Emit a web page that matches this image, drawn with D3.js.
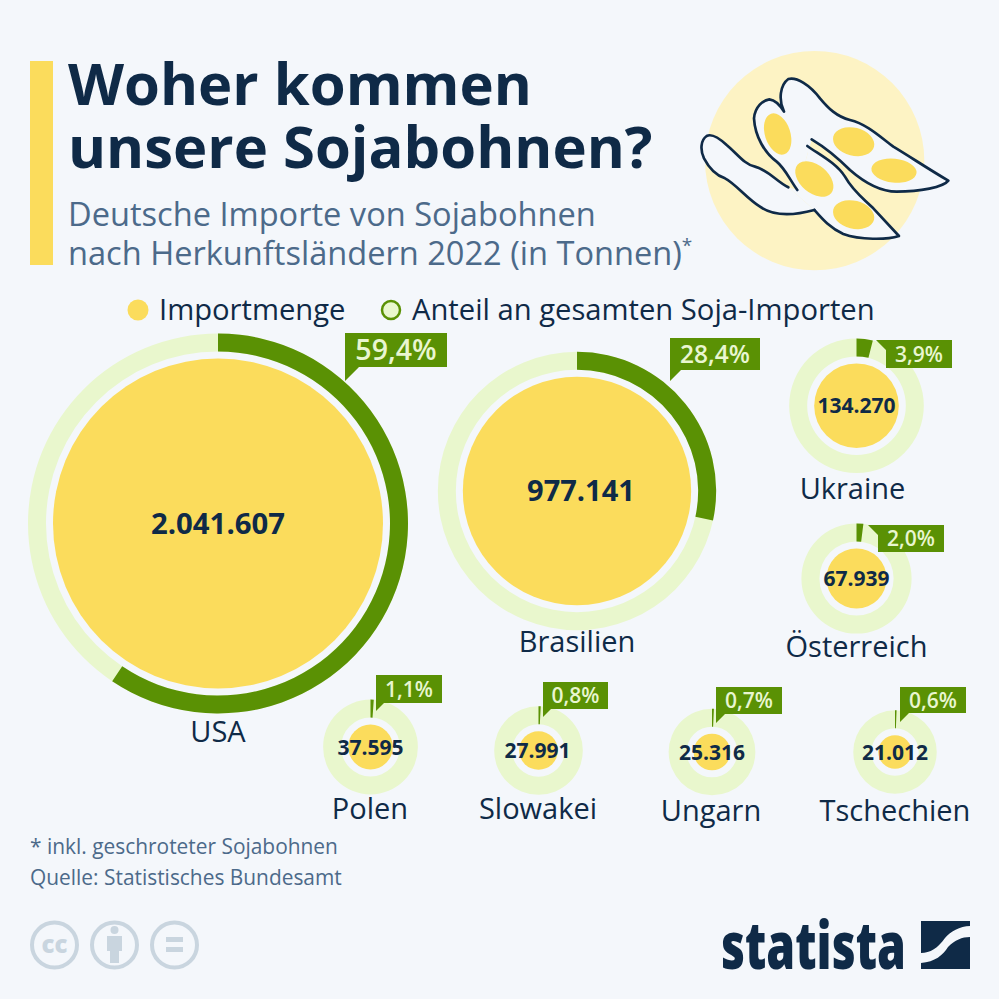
<!DOCTYPE html>
<html lang="de"><head><meta charset="utf-8">
<script src="https://cdn.jsdelivr.net/npm/d3@7/dist/d3.min.js"></script>
<style>html,body{margin:0;padding:0;background:#f4f7fb}svg{display:block}text{font-family:"Open Sans",sans-serif}</style>
</head><body><svg id="c" width="999" height="999"></svg>
<script>
const countries = ["USA","Brasilien","Ukraine","Österreich","Polen","Slowakei","Ungarn","Tschechien"];
const imports = [2041607,977141,134270,67939,37595,27991,25316,21012];
const shares = [59.4,28.4,3.9,2.0,1.1,0.8,0.7,0.6];
const centers = [[218,523.5],[577,491],[856.5,405.7],[856.5,578.5],[370.5,747],[538.5,750.5],[712,752],[895,752]];
const labelPos = [[218,741.5],[577,651.5],[852.5,498.5],[856.5,656.5],[370,818.5],[538,818.5],[711,821],[895,821]];
const valueShift = [0,4,0,0,0,-1,0,0];
const bubbleFont = [29.3,29,21,21,21,21,21,21];
const nameFont = [29,29,29,29,29,29,29,29];
const callouts = [
 {x:345,y:333,w:102,h:34,tx:345,ty:381,side:"down",fs:28.5},
 {x:670,y:338,w:90,h:32,tx:670,ty:381,side:"down",fs:24.5},
 {x:886,y:340,w:66,h:28,tx:876,ty:340,side:"up",fs:21},
 {x:878,y:525,w:66,h:27,tx:868,ty:525,side:"up",fs:21},
 {x:376,y:675,w:66,h:28,tx:376,ty:711,side:"down",fs:21},
 {x:543,y:682,w:65,h:27,tx:543,ty:717,side:"down",fs:21},
 {x:716,y:687,w:66,h:27,tx:716,ty:723,side:"down",fs:21},
 {x:900,y:687,w:66,h:26,tx:900,ty:722,side:"down",fs:21}
];
const deNum = d3.formatLocale({decimal:",",thousands:".",grouping:[3],currency:["","€"]});
const fmtValue = deNum.format(",d"), fmtShare = deNum.format(".1f");
const C = {bg:"#f4f7fb",navy:"#0f2a47",blue:"#4c6a8a",yellow:"#fbdc5c",pale:"#fdf3c4",green:"#5a9104",light:"#e9f7cd",sharetext:"#e9f6d0",cc:"#c9d5df"};

const svg = d3.select("#c");
svg.append("rect").attr("width",999).attr("height",999).attr("fill",C.bg);

// Header
svg.append("rect").attr("x",30).attr("y",61).attr("width",23).attr("height",204).attr("fill",C.yellow);
const title = svg.append("text").attr("font-size",58).attr("font-weight",700).attr("fill",C.navy);
[["Woher kommen",105],["unsere Sojabohnen?",168]].forEach(([t,y])=>title.append("tspan").attr("x",68).attr("y",y).text(t));
const subT = svg.append("text").attr("font-size",32.6).attr("fill",C.blue);
subT.append("tspan").attr("x",68).attr("y",226).text("Deutsche Importe von Sojabohnen");
subT.append("tspan").attr("x",68).attr("y",265).text("nach Herkunftsländern 2022 (in Tonnen)");
subT.append("tspan").attr("font-size",19).attr("dy",-13).text("*");

// Illustration
const ill = svg.append("g").attr("transform","translate(680,50) scale(0.3333)");
ill.append("circle").attr("cx",404).attr("cy",332).attr("r",329).attr("fill",C.pale);
const podL = "M325,412 C290,395 265,360 225,350 C195,345 170,310 140,285 C115,262 95,250 80,258 C62,270 60,300 72,325 C85,350 105,375 135,385 C165,400 200,445 240,470 C275,495 330,500 403,480";
const podM = "M352,420 C330,390 315,355 290,335 C255,310 225,260 222,205 C225,170 250,150 268,148 C285,150 300,165 312,185 C295,150 300,105 325,87 C350,80 390,105 420,145 C445,175 470,200 510,210 C560,222 600,260 640,290 C690,320 750,360 805,392 C790,412 720,425 650,425 C600,425 550,395 510,360 C475,325 440,295 395,268";
const podB = "M382,288 C420,315 470,340 495,380 C520,425 550,445 580,475 L657,558 C620,570 540,570 490,552 C450,535 425,505 403,480";
[podL,podM,podB,"M325,412 L352,420 L395,268 L382,288 L500,385 L403,480 Z"].forEach(d=>ill.append("path").attr("d",d).attr("fill",C.bg));
[podL,podM,podB].forEach(d=>ill.append("path").attr("d",d).attr("fill","none").attr("stroke",C.navy).attr("stroke-width",8).attr("stroke-linecap","round").attr("stroke-linejoin","round"));
[[293,252,38,64,-18],[521,275,63,42,14],[642,362,68,36,6],[403,387,42,66,-50],[521,494,63,42,14]].forEach(([x,y,a,b,r])=>{
  ill.append("ellipse").attr("rx",a).attr("ry",b).attr("transform",`translate(${x},${y}) rotate(${r})`).attr("fill",C.yellow);
});

// Legend
svg.append("circle").attr("cx",138).attr("cy",310).attr("r",10.5).attr("fill",C.yellow);
svg.append("text").attr("x",159).attr("y",320).attr("font-size",29.2).attr("fill",C.navy).text("Importmenge");
svg.append("circle").attr("cx",391).attr("cy",310).attr("r",9).attr("fill",C.light).attr("stroke",C.green).attr("stroke-width",2.5);
svg.append("text").attr("x",412).attr("y",320).attr("font-size",29.2).attr("fill",C.navy).text("Anteil an gesamten Soja-Importen");

// Bubbles
const rScale = d3.scaleSqrt().domain([0,d3.max(imports)]).range([0,165]);
const angle = d3.scaleLinear().domain([0,100]).range([0,2*Math.PI]);
const ringGap = 7, ringOut = 25;
const rows = countries.map((name,i)=>({name,value:imports[i],share:shares[i],c:centers[i],l:labelPos[i],cb:callouts[i],fs:bubbleFont[i],nf:nameFont[i],vs:valueShift[i]}));
const g = svg.selectAll("g.b").data(rows).join("g").attr("class","b");
g.append("path").attr("transform",d=>`translate(${d.c})`).attr("fill",C.light)
 .attr("d",d=>d3.arc()({innerRadius:rScale(d.value)+ringGap,outerRadius:rScale(d.value)+ringOut,startAngle:0,endAngle:2*Math.PI}));
g.append("path").attr("transform",d=>`translate(${d.c})`).attr("fill",C.green)
 .attr("d",d=>d3.arc()({innerRadius:rScale(d.value)+ringGap,outerRadius:rScale(d.value)+ringOut,startAngle:0,endAngle:angle(d.share)}));
g.append("circle").attr("cx",d=>d.c[0]).attr("cy",d=>d.c[1]).attr("r",d=>rScale(d.value)).attr("fill",C.yellow);
g.append("text").attr("x",d=>d.c[0]+d.vs).attr("y",d=>d.c[1]).attr("dy","0.36em").attr("text-anchor","middle")
 .attr("font-size",d=>d.fs).attr("font-weight",700).attr("fill",C.navy).text(d=>fmtValue(d.value));
g.append("text").attr("x",d=>d.l[0]).attr("y",d=>d.l[1]).attr("text-anchor","middle").attr("font-size",d=>d.nf).attr("fill",C.navy).text(d=>d.name);
// Callouts
g.append("path").attr("fill",C.green).attr("d",d=>{
  const b=d.cb, p=d3.path();
  if(b.side==="down"){p.moveTo(b.x,b.y);p.lineTo(b.x+b.w,b.y);p.lineTo(b.x+b.w,b.y+b.h);p.lineTo(b.x+(b.ty-b.y-b.h),b.y+b.h);p.lineTo(b.tx,b.ty);}
  else{p.moveTo(b.tx,b.ty);p.lineTo(b.x+b.w,b.y);p.lineTo(b.x+b.w,b.y+b.h);p.lineTo(b.x,b.y+b.h);p.lineTo(b.x,b.y+10);}
  p.closePath();return p.toString();
});
g.append("text").attr("x",d=>d.cb.x+d.cb.w/2).attr("y",d=>d.cb.y+d.cb.h/2).attr("dy","0.36em").attr("text-anchor","middle")
 .attr("font-size",d=>d.cb.fs).attr("font-weight",600).attr("fill",C.sharetext).text(d=>fmtShare(d.share)+"%");

// Footer
svg.append("text").attr("x",30).attr("y",853.5).attr("font-size",20.9).attr("fill",C.blue).text("* inkl. geschroteter Sojabohnen");
svg.append("text").attr("x",30).attr("y",885).attr("font-size",20.9).attr("fill",C.blue).text("Quelle: Statistisches Bundesamt");

// Licence icons
[54.5,114.5,174.5].forEach(x=>svg.append("circle").attr("cx",x).attr("cy",945).attr("r",22.5).attr("fill","none").attr("stroke",C.cc).attr("stroke-width",4));
svg.append("text").attr("x",54.5).attr("y",953).attr("text-anchor","middle").attr("font-size",24).attr("font-weight",800).attr("fill",C.cc).text("cc");
svg.append("circle").attr("cx",114.5).attr("cy",930).attr("r",4).attr("fill",C.cc);
svg.append("path").attr("d","M107,936 H122 V951 H119 V963 H110 V951 H107 Z").attr("fill",C.cc);
svg.append("rect").attr("x",166).attr("y",937).attr("width",17).attr("height",5).attr("fill",C.cc);
svg.append("rect").attr("x",166).attr("y",947).attr("width",17).attr("height",5).attr("fill",C.cc);

// Logo
svg.append("text").attr("x",721).attr("y",968.5).attr("font-family","Roboto").attr("font-size",66).attr("font-weight",900)
  .attr("fill",C.navy).attr("textLength",185).attr("lengthAdjust","spacingAndGlyphs").text("statista");
svg.append("path").attr("fill",C.navy).attr("d","M921,921 H970 V926 C960,926 950,932 945,938 C938,948 930,953 921,953 Z M970,937 V969 H921 V963 C935,962 943,955 948,947 C955,940 962,937 970,937 Z");
</script></body></html>
